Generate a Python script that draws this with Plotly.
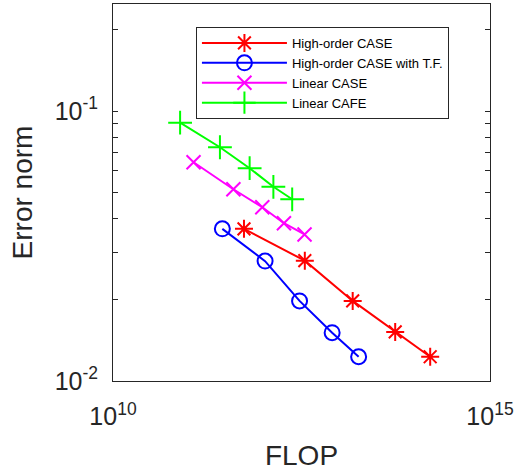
import plotly.graph_objects as go

# ---- data ----
series_names = ["High-order CASE", "High-order CASE with T.F.", "Linear CASE", "Linear CAFE"]

ho_case_flop = [5.46e11, 3.50e12, 1.51e13, 5.53e13, 1.61e14]
ho_case_err = [0.0366, 0.0279, 0.0198, 0.0152, 0.0123]

ho_tf_flop = [2.82e11, 1.04e12, 2.98e12, 8.06e12, 1.81e13]
ho_tf_err = [0.0366, 0.0278, 0.0198, 0.0151, 0.0123]

lin_case_flop = [1.17e11, 3.95e11, 9.55e11, 1.85e12, 3.47e12]
lin_case_err = [0.0646, 0.0513, 0.0440, 0.0384, 0.0349]

lin_cafe_flop = [7.76e10, 2.62e11, 6.49e11, 1.34e12, 2.38e12]
lin_cafe_err = [0.0905, 0.0734, 0.0614, 0.0524, 0.0471]

x_tickvals = [1e10, 1e15]
x_ticktext = ["10<sup>10</sup>", "10<sup>15</sup>"]
y_tickvals = [0.01, 0.02, 0.03, 0.04, 0.05, 0.06, 0.07, 0.08, 0.09, 0.1, 0.2]
y_ticktext = ["10<sup>-2</sup>", "", "", "", "", "", "", "", "", "10<sup>-1</sup>", ""]

# ---- styling ----
FONT = "Liberation Sans, Arial, Helvetica, sans-serif"
AXC = "#262626"

fig = go.Figure()

styles = [
    (ho_case_flop, ho_case_err, "#ff0000", "asterisk-open", 15),
    (ho_tf_flop, ho_tf_err, "#0000ff", "circle-open", 15),
    (lin_case_flop, lin_case_err, "#ff00ff", "x-thin-open", 14),
    (lin_cafe_flop, lin_cafe_err, "#00ff00", "cross-thin-open", 17),
]
for name, (xs, ys, c, sym, sz) in zip(series_names, styles):
    fig.add_trace(go.Scatter(
        x=xs, y=ys, name=name, mode="lines+markers",
        line=dict(color=c, width=2),
        marker=dict(symbol=sym, size=sz, color=c, line=dict(color=c, width=2)),
    ))

fig.update_layout(
    width=517, height=472,
    margin=dict(l=113, r=27, t=4, b=91, autoexpand=False),
    paper_bgcolor="white", plot_bgcolor="white",
    font=dict(family=FONT, color=AXC),
    showlegend=True,
    legend=dict(
        x=0.22, y=0.939, xanchor="left", yanchor="top",
        bgcolor="white", bordercolor=AXC, borderwidth=1,
        font=dict(family=FONT, size=13, color="#000000"),
        itemwidth=85, tracegroupgap=0,
    ),
)

fig.update_xaxes(
    type="log", range=[10, 15],
    tickvals=x_tickvals, ticktext=x_ticktext,
    ticks="outside", ticklen=13, tickcolor="rgba(0,0,0,0)",
    showgrid=False, zeroline=False,
    showline=True, linecolor=AXC, linewidth=1, mirror=True,
    tickfont=dict(family=FONT, size=25, color=AXC),
    title=dict(text="FLOP", font=dict(family=FONT, size=28, color=AXC), standoff=16),
    automargin=False,
)
fig.update_yaxes(
    type="log", range=[-2, -0.6037],
    tickvals=y_tickvals, ticktext=y_ticktext,
    ticks="inside", ticklen=5, tickwidth=1, tickcolor=AXC,
    showgrid=False, zeroline=False,
    showline=True, linecolor=AXC, linewidth=1, mirror="allticks",
    tickfont=dict(family=FONT, size=25, color=AXC),
    ticklabelstandoff=9,
    title=dict(text="Error norm", font=dict(family=FONT, size=28, color=AXC), standoff=13),
    automargin=False,
)

fig.write_html("out.html")
